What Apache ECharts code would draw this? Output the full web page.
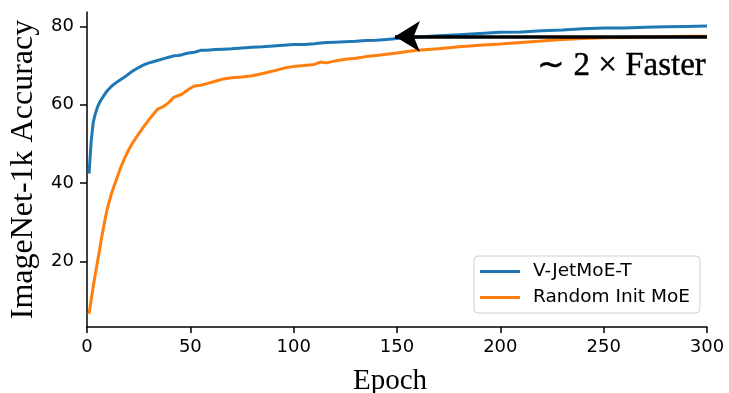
<!DOCTYPE html>
<html>
<head>
<meta charset="utf-8">
<script src="https://cdn.jsdelivr.net/npm/echarts@6/dist/echarts.min.js"></script>
<style>html,body{margin:0;padding:0;background:#fff}#c{width:729px;height:393px}</style>
</head>
<body>
<div id="c"></div>
<script>
const epochs = [1,2,3,4,5,6,7,8,9,10,12,14,16,18,20,22,24,26,28,30,32,34,36,38,40,42,44,46,48,50,52,55,58,62,66,70,75,80,85,90,95,100,105,110,113,116,120,125,130,135,140,145,150,155,160,170,180,190,200,210,220,230,240,250,260,270,280,290,300];
const jetAcc = [42.4,50.5,55.5,57.6,59.3,60.5,61.4,62.2,63.0,63.7,64.8,65.6,66.3,67.0,67.8,68.6,69.2,69.8,70.3,70.7,71.0,71.3,71.6,71.9,72.2,72.5,72.6,72.8,73.1,73.3,73.4,73.9,73.9,74.1,74.2,74.3,74.5,74.7,74.8,75.0,75.2,75.4,75.4,75.6,75.8,75.9,76.0,76.1,76.2,76.4,76.5,76.7,76.9,77.1,77.3,77.6,77.9,78.2,78.5,78.6,78.9,79.1,79.4,79.6,79.6,79.8,79.9,80.0,80.1];
const randAcc = [6.6,10.0,13.5,16.6,19.6,22.6,25.8,28.7,31.4,33.8,37.6,40.6,43.5,46.1,48.3,50.2,51.8,53.3,54.8,56.2,57.5,58.8,59.3,59.9,60.8,61.9,62.3,62.7,63.5,64.2,64.8,65.0,65.4,66.0,66.6,66.9,67.1,67.4,68.0,68.6,69.3,69.8,70.0,70.3,70.9,70.7,71.2,71.6,71.9,72.3,72.6,72.9,73.2,73.6,73.9,74.3,74.8,75.2,75.5,75.9,76.3,76.7,76.9,77.1,77.2,77.3,77.4,77.5,77.5];
const seriesNames = ['V-JetMoE-T','Random Init MoE'];
const xTicks = [0,50,100,150,200,250,300];
const yTicks = [20,40,60,80];
const arrowFrom = [300, 77.45];
const arrowTo = [149, 77.45];
const annotationText = '\u223C 2 \u00D7 Faster';

const chart = echarts.init(document.getElementById('c'), null, {renderer:'canvas'});
const pair = (xs, ys) => xs.map((x,i)=>[x, ys[i]]);
const tickFont = {fontFamily:'DejaVu Sans', fontSize:18, color:'#000'};
chart.setOption({
  animation:false,
  grid:{left:87, right:22, top:12, bottom:66, containLabel:false, outerBoundsMode:'none'},
  legend:{
    orient:'vertical', left:474, top:256,
    data:seriesNames.map(n=>({name:n, icon:'rect'})),
    itemWidth:40, itemHeight:3, itemGap:7,
    padding:[6,10,6,6],
    borderColor:'#d0d0d0', borderWidth:1, borderRadius:4, backgroundColor:'#fff',
    textStyle:{fontFamily:'DejaVu Sans', fontSize:18.5, color:'#000', padding:[0,0,0,8]}
  },
  xAxis:{
    type:'value', min:0, max:300, interval:50,
    name:'Epoch', nameLocation:'middle', nameGap:40,
    nameTextStyle:{fontFamily:'Liberation Serif', fontSize:29, color:'#000', padding:[0,14,0,0]},
    axisLine:{show:true, lineStyle:{color:'#000', width:1.5}},
    axisTick:{show:true, length:6, lineStyle:{color:'#000', width:1.5}, customValues:xTicks},
    axisLabel:Object.assign({margin:11, customValues:xTicks}, tickFont),
    splitLine:{show:false}
  },
  yAxis:{
    type:'value', min:3.2, max:83.7,
    name:'ImageNet-1k Accuracy', nameLocation:'middle', nameGap:47,
    nameTextStyle:{fontFamily:'Liberation Serif', fontSize:32, color:'#000'},
    axisLine:{show:true, lineStyle:{color:'#000', width:1.5}},
    axisTick:{show:true, length:7, lineStyle:{color:'#000', width:1.5}, customValues:yTicks},
    axisLabel:Object.assign({margin:13, customValues:yTicks}, tickFont),
    splitLine:{show:false}
  },
  series:[
    {name:seriesNames[0], type:'line', data:pair(epochs, jetAcc), showSymbol:false, symbol:'none',
     lineStyle:{color:'#1f77b4', width:3}, itemStyle:{color:'#1f77b4'}, z:2},
    {name:seriesNames[1], type:'line', data:pair(epochs, randAcc), showSymbol:false, symbol:'none',
     lineStyle:{color:'#ff7f0e', width:3}, itemStyle:{color:'#ff7f0e'}, z:3,
     markLine:{silent:true, symbol:['none','arrow'], symbolSize:[23,25],
       lineStyle:{color:'#000', width:3.5, type:'solid'}, label:{show:false},
       emphasis:{disabled:true},
       data:[[{coord:arrowFrom},{coord:arrowTo}]], z:5}
    }
  ],
  graphic:[{type:'text', right:23, top:50, style:{text:annotationText, fontFamily:'Liberation Serif', fontSize:33, fill:'#000', stroke:'#000', lineWidth:0.4}}]
});
</script>
</body>
</html>
